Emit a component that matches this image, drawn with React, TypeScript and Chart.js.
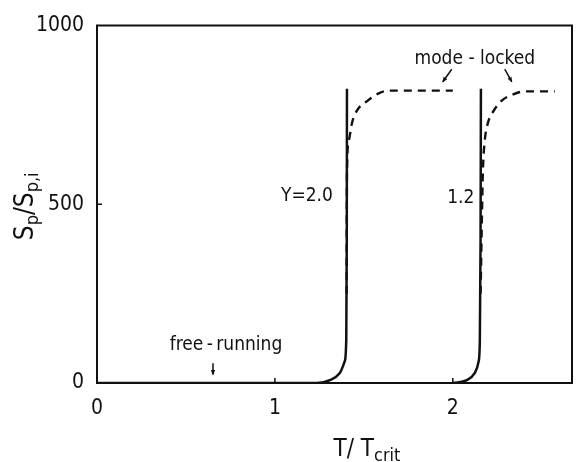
import React, { useEffect, useRef } from "react";
import { Chart, registerables } from "chart.js";

Chart.register(...registerables);

// ---- data ----
const xTicks = [0, 1, 2];
const yTicks = [0, 500, 1000];

const freeG20X = [0, 1.0, 1.236, 1.309, 1.365, 1.392, 1.401, 1.404, 1.405];
const freeG20Y = [0, 0, 0, 8, 28, 60, 120, 400, 823];

const freeG12X = [2.0, 2.079, 2.124, 2.145, 2.152, 2.156, 2.158];
const freeG12Y = [0, 8, 28, 60, 120, 400, 823];

const lockG20X = [1.403, 1.405, 1.416, 1.433, 1.461, 1.522, 1.59, 1.646, 2.0];
const lockG20Y = [250, 588, 680, 727, 762, 790, 812, 818, 818];

const lockG12X = [2.156, 2.169, 2.18, 2.197, 2.23, 2.275, 2.343, 2.404, 2.573];
const lockG12Y = [250, 588, 680, 727, 762, 790, 808, 816, 816];

const FONT = '"Liberation Sans Narrow", "DejaVu Sans Condensed", "Roboto Condensed", sans-serif';
const INK = "#111";

const pts = (xs: number[], ys: number[]) => xs.map((x, i) => ({ x, y: ys[i] }));

// annotation texts (data coordinates)
const notes = [
  { text: "Y=2.0", x: 1.18, y: 522, size: 19 },
  { text: "1.2", x: 2.045, y: 517, size: 19 },
  { text: "mode - locked", x: 2.124, y: 906, size: 19 },
  { text: "free\u2009-\u2009running", x: 0.725, y: 105, size: 19 },
];
const arrows = [
  { x1: 0.652, y1: 55, x2: 0.652, y2: 24 },
  { x1: 1.994, y1: 878, x2: 1.944, y2: 843 },
  { x1: 2.292, y1: 878, x2: 2.331, y2: 843 },
];

const decor = {
  id: "decor",
  afterDraw(chart: any) {
    const ctx = chart.ctx as CanvasRenderingContext2D;
    const { left, right, top, bottom } = chart.chartArea;
    const xs = chart.scales.x;
    const ys = chart.scales.y;
    ctx.save();
    ctx.strokeStyle = INK;
    ctx.fillStyle = INK;
    ctx.lineWidth = 2;
    ctx.beginPath();
    ctx.moveTo(left - 1, top);
    ctx.lineTo(right, top);
    ctx.lineTo(right, bottom + 1);
    ctx.stroke();
    ctx.lineWidth = 1.5;
    ctx.beginPath();
    [1, 2].forEach((v) => {
      const px = xs.getPixelForValue(v);
      ctx.moveTo(px, bottom);
      ctx.lineTo(px, bottom - 5);
    });
    const py = ys.getPixelForValue(500);
    ctx.moveTo(left, py);
    ctx.lineTo(left + 5, py);
    ctx.stroke();
    ctx.textAlign = "center";
    ctx.textBaseline = "middle";
    notes.forEach((n) => {
      ctx.font = `${n.size}px ${FONT}`;
      ctx.fillText(n.text, xs.getPixelForValue(n.x), ys.getPixelForValue(n.y));
    });
    ctx.lineWidth = 1.5;
    arrows.forEach((a) => {
      const x1 = xs.getPixelForValue(a.x1), y1 = ys.getPixelForValue(a.y1);
      const x2 = xs.getPixelForValue(a.x2), y2 = ys.getPixelForValue(a.y2);
      ctx.beginPath();
      ctx.moveTo(x1, y1);
      ctx.lineTo(x2, y2);
      ctx.stroke();
      const ang = Math.atan2(y2 - y1, x2 - x1);
      const L = 5, W = 0.45;
      ctx.beginPath();
      ctx.moveTo(x2 + Math.cos(ang) * 1, y2 + Math.sin(ang) * 1);
      ctx.lineTo(x2 - L * Math.cos(ang - W), y2 - L * Math.sin(ang - W));
      ctx.lineTo(x2 - L * Math.cos(ang + W), y2 - L * Math.sin(ang + W));
      ctx.closePath();
      ctx.fill();
    });
    const drawParts = (parts: { t: string; s: number; dy: number }[], cx: number, cy: number) => {
      let total = 0;
      parts.forEach((p) => {
        ctx.font = `${p.s}px ${FONT}`;
        total += ctx.measureText(p.t).width;
      });
      let x = cx - total / 2;
      ctx.textAlign = "left";
      ctx.textBaseline = "alphabetic";
      parts.forEach((p) => {
        ctx.font = `${p.s}px ${FONT}`;
        ctx.fillText(p.t, x, cy + p.dy);
        x += ctx.measureText(p.t).width;
      });
    };
    drawParts(
      [
        { t: "T/ T", s: 24, dy: 0 },
        { t: "crit", s: 18, dy: 5 },
      ],
      367,
      456
    );
    ctx.save();
    ctx.translate(33, (top + bottom) / 2 + 2);
    ctx.rotate(-Math.PI / 2);
    drawParts(
      [
        { t: "S", s: 26, dy: 0 },
        { t: "p", s: 18, dy: 5 },
        { t: "/", s: 26, dy: 0 },
        { t: "S", s: 26, dy: 0 },
        { t: "p,i", s: 18, dy: 5 },
      ],
      0,
      0
    );
    ctx.restore();
    ctx.restore();
  },
};

export default function App() {
  const ref = useRef<HTMLCanvasElement | null>(null);
  useEffect(() => {
    document.body.style.margin = "0";
    const line = (xs: number[], ys: number[], dash: number[]) => ({
      data: pts(xs, ys),
      showLine: true,
      borderColor: INK,
      borderWidth: dash.length ? 2.4 : 2.5,
      borderDash: dash,
      pointRadius: 0,
      fill: false,
      cubicInterpolationMode: "monotone" as const,
    });
    const chart = new Chart(ref.current as HTMLCanvasElement, {
      type: "scatter",
      data: {
        datasets: [
          line(freeG20X, freeG20Y, []),
          line(freeG12X, freeG12Y, []),
          line(lockG20X, lockG20Y, [8, 6]),
          line(lockG12X, lockG12Y, [8, 6]),
        ],
      },
      options: {
        animation: false,
        responsive: false,
        devicePixelRatio: 1,
        layout: { padding: { top: 23, right: 4, left: 0, bottom: 0 } },
        plugins: { legend: { display: false }, tooltip: { enabled: false } },
        scales: {
          x: {
            type: "linear",
            min: 0,
            max: 2.67,
            afterBuildTicks: (s: any) => {
              s.ticks = xTicks.map((v) => ({ value: v }));
            },
            afterFit: (s: any) => {
              s.height = 79;
            },
            ticks: {
              color: INK,
              font: { family: FONT, size: 21 },
              padding: 13,
              maxRotation: 0,
              callback: (v: any) => String(v),
            },
            grid: { display: false, drawTicks: false },
            border: { display: true, color: INK, width: 2 },
          },
          y: {
            type: "linear",
            min: 0,
            max: 1000,
            afterBuildTicks: (s: any) => {
              s.ticks = yTicks.map((v) => ({ value: v }));
            },
            afterFit: (s: any) => {
              s.width = 97;
            },
            ticks: {
              color: INK,
              font: { family: FONT, size: 21 },
              padding: 13,
              callback: (v: any) => String(v),
            },
            grid: { display: false, drawTicks: false },
            border: { display: true, color: INK, width: 2 },
          },
        },
      },
      plugins: [decor],
    });
    return () => chart.destroy();
  }, []);
  return <canvas ref={ref} width={576} height={462} style={{ display: "block" }} />;
}
